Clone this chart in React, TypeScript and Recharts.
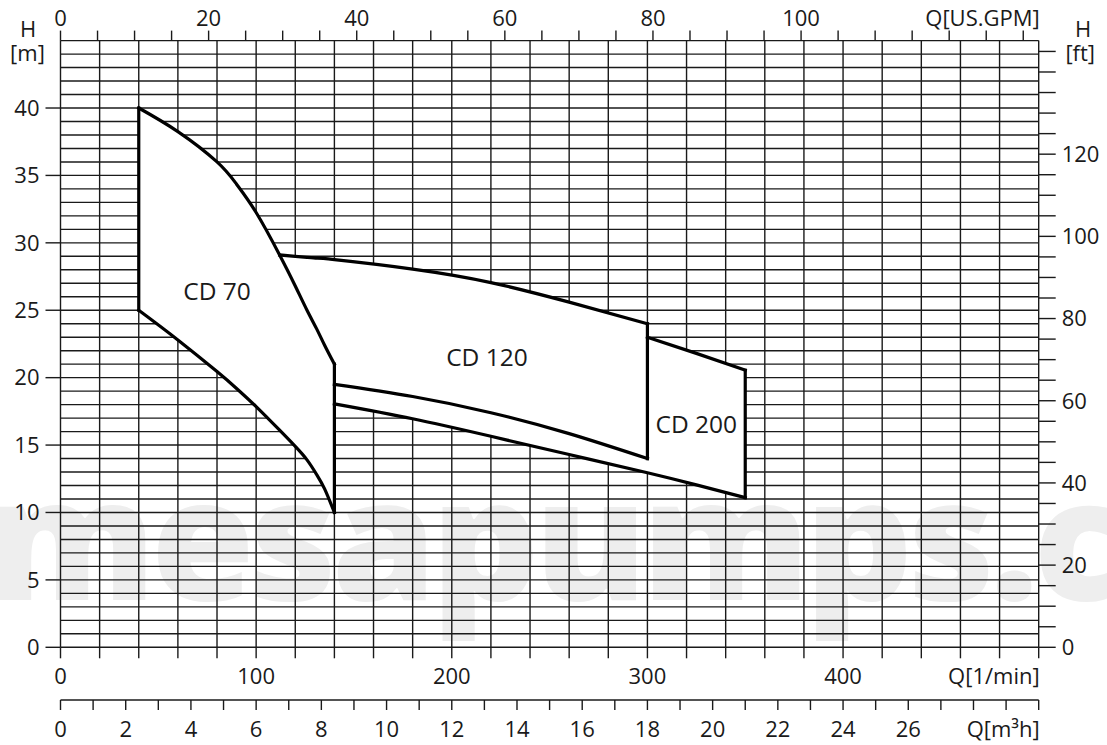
import React from 'react';
import { ComposedChart, XAxis, YAxis, CartesianGrid, Area, Line, Scatter } from 'recharts';

const FONT = '"Open Sans", "DejaVu Sans", sans-serif';
const INK = '#1a1a1a';

// curves: Q in l/min, H in m
const cd70Flow = [40, 60, 80, 90, 100, 112, 120, 126, 131, 135, 140];
const cd70Top = [40, 38.25, 36.0, 34.35, 32.25, 29.1, 26.8, 25.0, 23.6, 22.4, 21.0];
const cd70Bottom = [25, 22.8, 20.45, 19.2, 17.85, 16.1, 14.9, 13.9, 12.8, 11.75, 10];

const cd120TopFlow = [112, 120, 126, 131, 140, 180, 220, 260, 300];
const cd120Top = [29.1, 29.0, 28.92, 28.86, 28.75, 28.05, 27.05, 25.6, 24.0];
const cd120BottomFlow = [140, 180, 220, 260, 300];
const cd120Bottom = [19.5, 18.6, 17.4, 15.85, 14.0];

const cd200TopFlow = [300, 325, 350];
const cd200Top = [23.0, 21.8, 20.55];
const cd200BottomFlow = [140, 180, 220, 260, 300, 325, 350];
const cd200Bottom = [18.05, 16.95, 15.65, 14.3, 12.95, 12.05, 11.1];

const regionLabels = [
  { name: 'CD 70', q: 80, h: 26.4 },
  { name: 'CD 120', q: 218, h: 21.5 },
  { name: 'CD 200', q: 325, h: 16.5 },
];

// axes
const steps = (from: number, to: number, step: number) => {
  const out: number[] = [];
  for (let v = from; v <= to + 1e-9; v += step) out.push(v);
  return out;
};
const flowTicks = steps(0, 500, 20);
const flowLabels = [0, 100, 200, 300, 400];
const cubicTicks = steps(0, 30, 1);
const cubicLabels = [0, 2, 4, 6, 8, 10, 12, 14, 16, 18, 20, 22, 24, 26];
const gpmTicks = steps(0, 130, 5);
const gpmLabels = [0, 20, 40, 60, 80, 100];
const headTicks = [0, 5, 10, 15, 20, 25, 30, 35, 40];
const feetTicks = steps(0, 145, 5);
const feetLabels = [0, 20, 40, 60, 80, 100, 120];
const gridHeads = steps(0, 45, 1);

const LPM_PER_GPM = 3.785411784;
const FT_PER_M = 3.28084;

const pts = (qs: number[], hs: number[]) => qs.map((q, i) => ({ q, h: hs[i] }));
const at = (qs: number[], hs: number[], q: number) => hs[qs.indexOf(q)];
const last = (a: number[]) => a[a.length - 1];

// white fills that hide the grid inside each field (they overlap so no seams show)
const cd70Fill = cd70Flow.map((q, i) => ({ q, band: [cd70Bottom[i], cd70Top[i]] }));
const cd120Cap = pts(cd120TopFlow, cd120Top);
const cd120Fill = cd120BottomFlow.map((q) => ({
  q,
  band: [at(cd200BottomFlow, cd200Bottom, q), at(cd120TopFlow, cd120Top, q)],
}));
const cd200Fill = cd200TopFlow.map((q, i) => ({ q, band: [at(cd200BottomFlow, cd200Bottom, q), cd200Top[i]] }));
const seamFlow = cd200BottomFlow.filter((q) => q >= 260 && q <= 325);
const seamPatch = pts(seamFlow, seamFlow.map((q) => at(cd200BottomFlow, cd200Bottom, q)));

const edges = [
  pts([cd70Flow[0], cd70Flow[0]], [cd70Bottom[0], cd70Top[0]]),
  pts([last(cd70Flow), last(cd70Flow)], [last(cd70Bottom), last(cd70Top)]),
  pts([last(cd120TopFlow), last(cd120TopFlow)], [last(cd120Bottom), last(cd120Top)]),
  pts([last(cd200TopFlow), last(cd200TopFlow)], [last(cd200Bottom), last(cd200Top)]),
];

const curves = [
  pts(cd70Flow, cd70Top),
  pts(cd70Flow, cd70Bottom),
  pts(cd120TopFlow, cd120Top),
  pts(cd120BottomFlow, cd120Bottom),
  pts(cd200TopFlow, cd200Top),
  pts(cd200BottomFlow, cd200Bottom),
];

// the secondary x scales need something plotted on them to get their ticks
const cubicAnchor = cubicTicks.map((q) => ({ q, h: 0 }));
const gpmAnchor = gpmTicks.map((q) => ({ q, h: 0 }));

const tickLine = { stroke: INK, strokeWidth: 1.4 };

function makeTick(labels: number[], dy: number, unit?: { at: number; text: string }) {
  return (props: any) => {
    const { x, y, payload, textAnchor } = props;
    const v = payload.value;
    const isUnit = !!unit && Math.abs(v - unit.at) < 1e-6;
    const text = isUnit ? unit!.text : labels.includes(v) ? String(v) : '';
    if (!text) return <g />;
    return (
      <text
        x={isUnit ? x + 1 : x}
        y={y}
        dy={dy}
        textAnchor={isUnit ? 'end' : textAnchor}
        fontSize={22}
        fontFamily={FONT}
        fill={INK}
      >
        {text}
      </text>
    );
  };
}

const axisTitle = (lines: { text: string; dx: number; dy: number }[]) => (props: any) => {
  const vb = props.viewBox || {};
  return (
    <g>
      {lines.map((l) => (
        <text key={l.text} x={vb.x + l.dx} y={vb.y + l.dy} textAnchor="middle" fontSize={22} fontFamily={FONT} fill={INK}>
          {l.text}
        </text>
      ))}
    </g>
  );
};

const gpmTitle = (props: any) => {
  const vb = props.viewBox || {};
  return (
    <text x={vb.x + vb.width + 1} y={26} textAnchor="end" fontSize={22} fontFamily={FONT} fill={INK}>
      Q[US.GPM]
    </text>
  );
};

const RegionLabel = (props: any) => (
  <text x={props.cx} y={props.cy} dy={8.5} textAnchor="middle" fontSize={24.5} fontFamily={FONT} fill={INK}>
    {props.payload.name}
  </text>
);

const Nothing = () => <g />;

const fillProps = {
  xAxisId: 'lmin',
  yAxisId: 'm',
  type: 'natural' as const,
  stroke: 'none',
  fill: '#ffffff',
  fillOpacity: 1,
  isAnimationActive: false,
};

const strokeProps = {
  xAxisId: 'lmin',
  yAxisId: 'm',
  dataKey: 'h',
  stroke: '#000',
  strokeWidth: 3.2,
  strokeLinecap: 'square' as const,
  dot: false,
  activeDot: false,
  isAnimationActive: false,
};

export default function App() {
  return (
    <div style={{ position: 'absolute', left: 0, top: 0, width: 1107, height: 745, overflow: 'hidden', background: '#fff' }}>
      <svg width={1107} height={745} style={{ position: 'absolute', left: 0, top: 0 }}>
        <text x={-12} y={600} fontSize={168} fontWeight={800} letterSpacing={-5} fontFamily={FONT} fill="#eeeeee">
          mesapumps.co
        </text>
      </svg>
      <div style={{ position: 'absolute', left: 0, top: 0 }}>
        <ComposedChart width={1107} height={745} margin={{ top: 0, right: 0, bottom: 0, left: 0 }}>
          <CartesianGrid
            xAxisId="lmin"
            yAxisId="m"
            horizontalValues={gridHeads}
            verticalValues={flowTicks}
            stroke={INK}
            strokeWidth={1.4}
          />
          <XAxis
            xAxisId="lmin"
            type="number"
            dataKey="q"
            domain={[0, 500]}
            allowDataOverflow
            ticks={flowTicks}
            interval={0}
            height={52.7}
            axisLine={false}
            tickSize={11}
            tickMargin={0}
            tickLine={tickLine}
            tick={makeTick(flowLabels, 25.7, { at: 500, text: 'Q[1/min]' })}
          />
          <XAxis
            xAxisId="m3h"
            type="number"
            dataKey="q"
            domain={[0, 30]}
            allowDataOverflow
            ticks={cubicTicks}
            interval={0}
            height={45}
            axisLine={{ stroke: INK, strokeWidth: 1.6 }}
            tickSize={10}
            tickMargin={0}
            tickLine={tickLine}
            tick={makeTick(cubicLabels, 27, { at: 30, text: 'Q[m³h]' })}
          />
          <XAxis
            xAxisId="gpm"
            orientation="top"
            type="number"
            dataKey="q"
            domain={[0, 500 / LPM_PER_GPM]}
            allowDataOverflow
            ticks={gpmTicks}
            interval={0}
            height={40.6}
            axisLine={false}
            tickSize={10}
            tickMargin={0}
            tickLine={tickLine}
            tick={makeTick(gpmLabels, -4.6)}
            label={{ content: gpmTitle }}
          />
          <YAxis
            yAxisId="m"
            type="number"
            domain={[0, 45]}
            allowDataOverflow
            ticks={headTicks}
            interval={0}
            width={60.5}
            axisLine={false}
            tickSize={15}
            tickMargin={6}
            tickLine={tickLine}
            tick={makeTick(headTicks, 7.8)}
            label={{ content: axisTitle([{ text: 'H', dx: 28, dy: -3.5 }, { text: '[m]', dx: 27.5, dy: 20.5 }]) }}
          />
          <YAxis
            yAxisId="ft"
            orientation="right"
            type="number"
            domain={[0, 45 * FT_PER_M]}
            allowDataOverflow
            ticks={feetTicks}
            interval={0}
            width={68.3}
            axisLine={false}
            tickSize={17}
            tickMargin={6}
            tickLine={tickLine}
            tick={makeTick(feetLabels, 7.8)}
            label={{ content: axisTitle([{ text: 'H', dx: 44.5, dy: -3.5 }, { text: '[ft]', dx: 41.5, dy: 20.5 }]) }}
          />

          <Scatter xAxisId="m3h" yAxisId="m" data={cubicAnchor} dataKey="h" shape={Nothing} isAnimationActive={false} />
          <Scatter xAxisId="gpm" yAxisId="m" data={gpmAnchor} dataKey="h" shape={Nothing} isAnimationActive={false} />

          <Area {...fillProps} data={cd70Fill} dataKey="band" />
          <Area {...fillProps} data={cd120Cap} dataKey="h" baseValue={cd200Bottom[0]} />
          <Area {...fillProps} data={cd120Fill} dataKey="band" />
          <Area {...fillProps} data={cd200Fill} dataKey="band" />
          <Area {...fillProps} data={seamPatch} dataKey="h" baseValue={seamPatch[0].h} />

          {curves.map((d, i) => (
            <Line key={'curve' + i} {...strokeProps} data={d} type="natural" />
          ))}
          {edges.map((d, i) => (
            <Line key={'edge' + i} {...strokeProps} data={d} type="linear" />
          ))}
          <Scatter
            xAxisId="lmin"
            yAxisId="m"
            data={regionLabels}
            dataKey="h"
            shape={RegionLabel}
            isAnimationActive={false}
          />
        </ComposedChart>
      </div>
    </div>
  );
}
